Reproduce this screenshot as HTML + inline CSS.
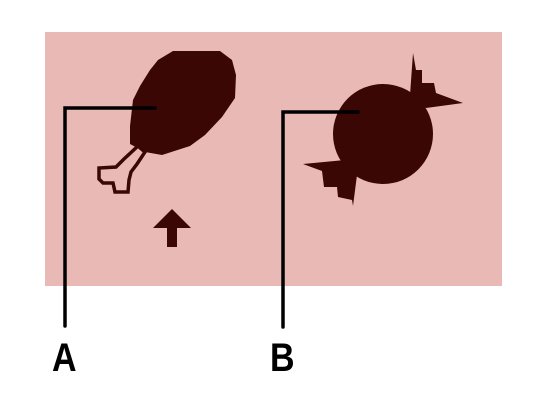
<!DOCTYPE html>
<html><head><meta charset="utf-8"><style>
html,body{margin:0;padding:0;background:#fff;}
svg{display:block}
</style></head><body>
<svg width="556" height="416" viewBox="0 0 556 416" xmlns="http://www.w3.org/2000/svg">
<rect x="45" y="32" width="457" height="254" fill="#e8b9b5"/>
<g>
<path d="M173,51 L220,51 L232,60 L236,75 L235,98 L222,117 L205,135 L190,146 L162,155 L145,152 L130,144 L130,126 L133,100 L140,86 L150,70 L158,60 Z" fill="#3a0705"/>
<path d="M138,146 L145,152 L137,164 L131,172 L129,180 L128,192 L115,192 L113,183 L103,183 L99,179 L99,168 L116,167 L124,159 Z" fill="#e8b9b5" stroke="#3a0705" stroke-width="3.5" stroke-linejoin="miter"/>
</g>
<path d="M172,209 L191,228 L177,228 L177,247 L167,247 L167,228 L153,228 Z" fill="#3a0705"/>
<g fill="#3a0705">
<circle cx="383" cy="134" r="50"/>
<path d="M410,95 L413,53 L416,70 L422,70 L422,83 L434,83 L436,93 L463,103 L426,108 Z"/>
<path d="M345,160 L303,164 L322,171 L324,187 L337,187 L338,197 L352,200 L353,206 L357,175 Z"/>
</g>
<g stroke="#000" stroke-width="3.5" fill="none" stroke-linecap="round">
<path d="M155,108 L65,108 L65,326"/>
</g>
<g stroke="#000" stroke-width="3.5" fill="none" stroke-linecap="round">
<path d="M358,112 L283,112 L283,327"/>
</g>
<text x="0" y="371" transform="translate(52,0) scale(0.85,1)" font-family="Liberation Sans, sans-serif" font-weight="bold" font-size="40" fill="#000">A</text>
<text x="0" y="371" transform="translate(270,0) scale(0.85,1)" font-family="Liberation Sans, sans-serif" font-weight="bold" font-size="40" fill="#000">B</text>
</svg>
</body></html>
